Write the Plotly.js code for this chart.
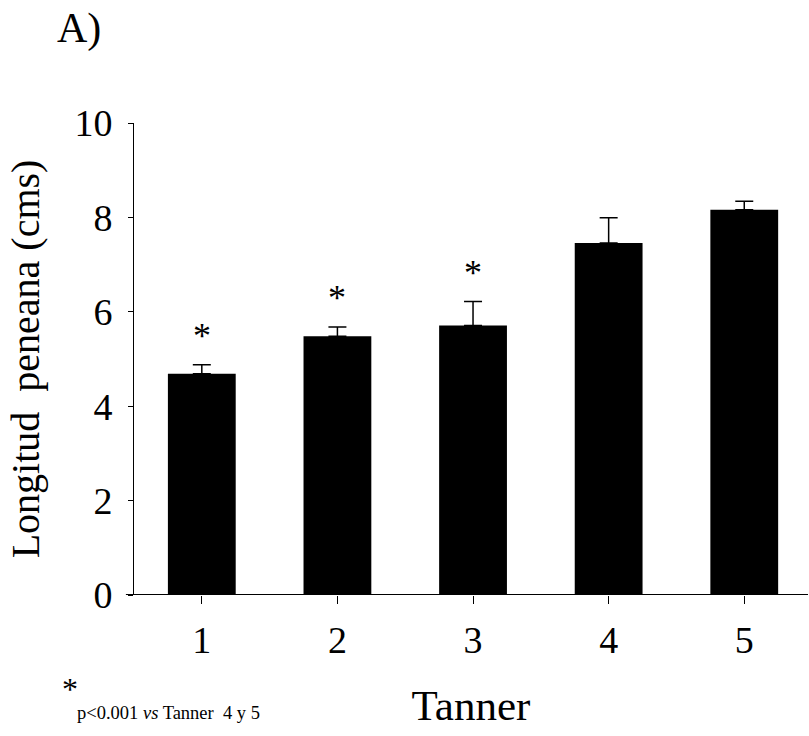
<!DOCTYPE html>
<html>
<head>
<meta charset="utf-8">
<script src="https://cdn.plot.ly/plotly-3.0.1.min.js"></script>
<style>html,body{margin:0;padding:0;background:#fff;}#chart{width:809px;height:736px;}</style>
</head>
<body>
<div id="chart"></div>
<script>
const categories = [1, 2, 3, 4, 5];
const tickLabels = ["1", "2", "3", "4", "5"];
const meanLength = [4.69, 5.48, 5.71, 7.46, 8.16];
const errorUp = [0.19, 0.20, 0.51, 0.53, 0.18];
const starCategories = [1, 2, 3];
const starHeights = [5.69, 6.50, 7.03];

const FONT = "Liberation Serif, Times New Roman, serif";

const trace = {
  type: "bar",
  x: categories,
  y: meanLength,
  width: 0.5,
  marker: {color: "#000", line: {width: 0}},
  error_y: {
    type: "data",
    symmetric: false,
    array: errorUp,
    arrayminus: categories.map(() => 0),
    color: "#000",
    thickness: 1.5,
    width: 9
  },
  hoverinfo: "x+y"
};

const starAnns = starCategories.map((c, i) => ({
  x: c, y: starHeights[i], xref: "x", yref: "y",
  text: "*", showarrow: false, yanchor: "middle", yshift: -10,
  font: {family: FONT, size: 36, color: "#000"}
}));

const layout = {
  width: 809, height: 736,
  margin: {l: 134, r: 1, t: 123, b: 141},
  paper_bgcolor: "#fff", plot_bgcolor: "#fff",
  showlegend: false,
  font: {family: FONT, color: "#000"},
  xaxis: {
    range: [0.5, 5.47],
    tickvals: categories,
    ticktext: tickLabels,
    ticks: "outside", ticklen: 8, tickwidth: 1, tickcolor: "#000",
    ticklabelstandoff: 3,
    showline: false, showgrid: false, zeroline: false,
    tickfont: {family: FONT, size: 38, color: "#000"},
    title: {text: "Tanner", font: {family: FONT, size: 43, color: "#000"}, standoff: 30}
  },
  yaxis: {
    range: [0, 10],
    tickvals: [0, 2, 4, 6, 8, 10],
    ticks: "outside", ticklen: 5, tickwidth: 1, tickcolor: "#000",
    ticklabelstandoff: 8,
    showline: true, linewidth: 1, linecolor: "#000",
    showgrid: false, zeroline: false,
    tickfont: {family: FONT, size: 38, color: "#000"},
    title: {text: "Longitud  peneana (cms)", font: {family: FONT, size: 40, color: "#000"}, standoff: 22}
  },
  shapes: [
    {type: "line", xref: "paper", yref: "y", x0: -0.012, x1: 1, y0: 0, y1: 0,
     line: {color: "#000", width: 2}}
  ],
  annotations: starAnns.concat([
    {xref: "paper", yref: "paper", x: -0.095, y: -0.2, xanchor: "center", yanchor: "middle",
     text: "*", showarrow: false, font: {family: FONT, size: 32, color: "#000"}},
    {xref: "paper", yref: "paper", x: -0.087, y: -0.25, xanchor: "left", yanchor: "middle",
     text: "p&lt;0.001 <i>vs</i> Tanner  4 y 5", showarrow: false,
     font: {family: FONT, size: 18.5, color: "#000"}},
    {xref: "paper", yref: "paper", x: -0.117, y: 1.2, xanchor: "left", yanchor: "middle",
     text: "A)", showarrow: false, font: {family: FONT, size: 42, color: "#000"}}
  ])
};

Plotly.newPlot("chart", [trace], layout, {displayModeBar: false, staticPlot: true});
</script>
</body>
</html>
